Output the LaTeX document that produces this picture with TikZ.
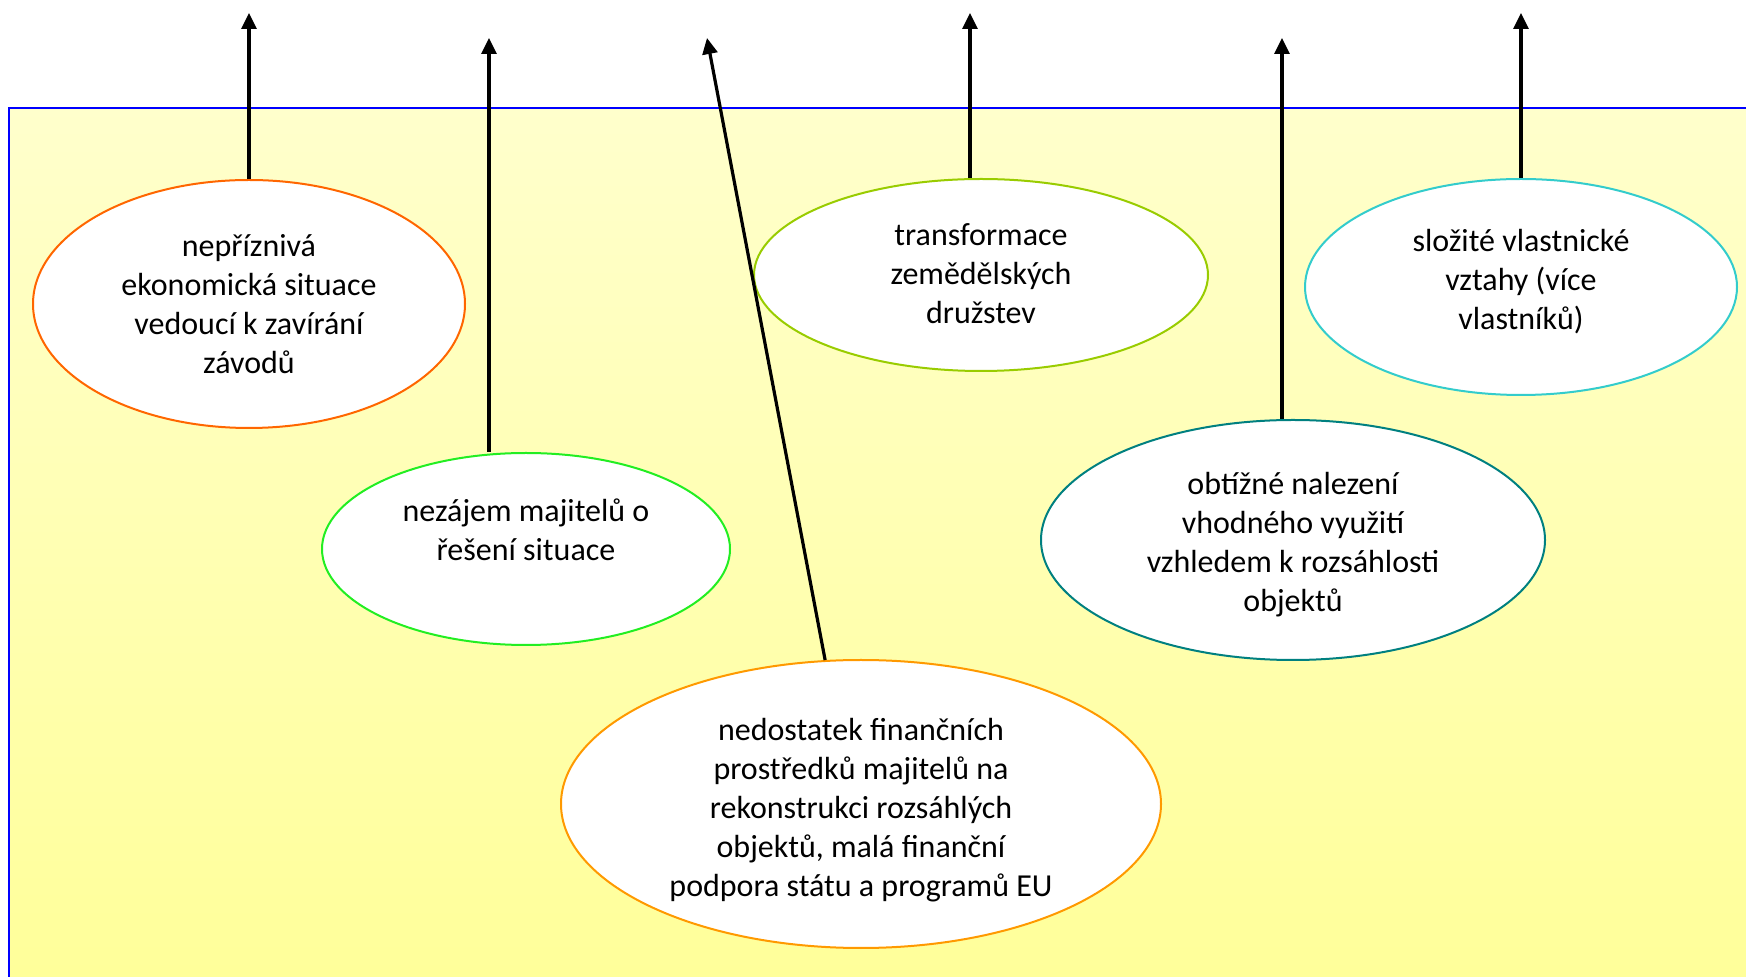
\documentclass[tikz,border=0pt]{standalone}
\usepackage{fontspec}
\setmainfont{Carlito}
\usetikzlibrary{shapes.geometric,arrows.meta}
\definecolor{bgtop}{HTML}{FFFFCC}
\definecolor{bgbot}{HTML}{FFFF99}
\definecolor{cA}{HTML}{FF6600}
\definecolor{cB}{HTML}{22EE22}
\definecolor{cC}{HTML}{FF9900}
\definecolor{cD}{HTML}{99CC00}
\definecolor{cE}{HTML}{008080}
\definecolor{cF}{HTML}{33CCCC}
\tikzset{
  bubble/.style={ellipse, draw, line width=1pt, fill=white, inner sep=0pt},
  btext/.style={inner sep=0pt, align=center, font=\fontsize{16}{19.5}\selectfont},
  arr/.style={line width=1.6pt, -{Triangle[length=8pt,width=7.5pt]}},
}
\begin{document}
\begin{tikzpicture}[x=0.5pt,y=-0.5pt]
\useasboundingbox (0,0) rectangle (1746,977);
\clip (0,0) rectangle (1746,977);
\shade[top color=bgtop, bottom color=bgbot] (9,108) rectangle (1760,990);
\draw[blue, line width=1.2pt] (1760,108) -- (9,108) -- (9,990);

\node[bubble, draw=cA, minimum width=216pt, minimum height=124pt] (e1) at (249,304) {};
\node[btext] (e1t) at (e1.center)
  {nepříznivá\\ekonomická situace\\vedoucí k zavírání\\závodů};
\node[bubble, draw=cB, minimum width=204pt, minimum height=96pt] (e2) at (526,549) {};
\node[btext, yshift=9.5pt] (e2t) at (e2.center)
  {nezájem majitelů o\\řešení situace};
\node[bubble, draw=cC, minimum width=300pt, minimum height=144pt] (e3) at (861,804) {};
\node[btext, yshift=-3.2pt] (e3t) at (e3.center)
  {nedostatek finančních\\prostředků majitelů na\\rekonstrukci rozsáhlých\\objektů, malá finanční\\podpora státu a programů EU};
\node[bubble, draw=cD, minimum width=227pt, minimum height=96pt] (e4) at (981,275) {};
\node[btext, yshift=0.5pt] (e4t) at (e4.center)
  {transformace\\zemědělských\\družstev};
\node[bubble, draw=cE, minimum width=252pt, minimum height=120pt] (e5) at (1293,540) {};
\node[btext, yshift=-2.3pt] (e5t) at (e5.center)
  {obtížné nalezení\\vhodného využití\\vzhledem k rozsáhlosti\\objektů};
\node[bubble, draw=cF, minimum width=216pt, minimum height=108pt] (e6) at (1521,287) {};
\node[btext, yshift=2.8pt] (e6t) at (e6.center)
  {složité vlastnické\\vztahy (více\\vlastníků)};

\coordinate (t1) at (249,13);
\coordinate (t2) at (489,38);
\coordinate (t3) at (707,38);
\coordinate (t4) at (970,13);
\coordinate (t5) at (1282,38);
\coordinate (t6) at (1521,13);

\draw[arr] (e1.north) -- (t1);
\draw[arr] (t2 |- e2.north) -- (t2);
\draw[arr] (e3.104) -- (t3);
\draw[arr] (t4 |- e4.north) -- (t4);
\draw[arr] (t5 |- e5.north) -- (t5);
\draw[arr] (e6.north) -- (t6);
\end{tikzpicture}
\end{document}
